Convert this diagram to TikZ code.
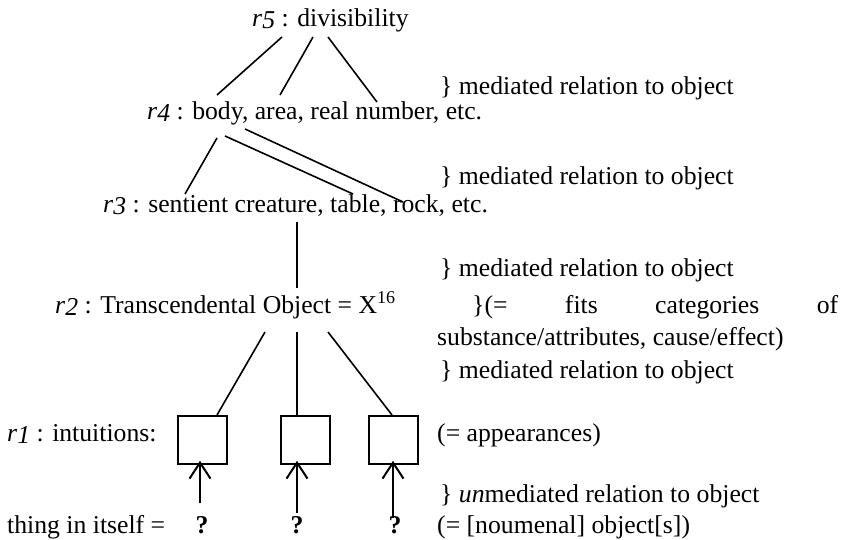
\documentclass[tikz,border=0pt]{standalone}
\usepackage{fontspec}
\setmainfont{Liberation Serif}
\usetikzlibrary{arrows.meta}
\newcommand{\rr}[1]{\textit{r}\raisebox{-2pt}{\textit{#1}}}
\begin{document}
\begin{tikzpicture}[x=1pt,y=-1pt,
  lbl/.style={anchor=base west,inner sep=0pt,font=\fontsize{25.7}{30}\selectfont},
  conn/.style={line width=1.6pt},
  ibox/.style={draw,line width=1.8pt,minimum width=49pt,minimum height=48pt,inner sep=0pt,anchor=north west},
  uparrow/.style={line width=2pt,-{Straight Barb[length=16pt,width=21pt,line width=2pt]}}]
\useasboundingbox (0,0) rectangle (844,540);
% texts
\node[lbl] (r5) at (252,27) {\rr{5} : divisibility};
\node[lbl] (m1) at (440,95) {\} mediated relation to object};
\node[lbl] (r4) at (147,120) {\rr{4} : body, area, real number, etc.};
\node[lbl] (m2) at (440,185) {\} mediated relation to object};
\node[lbl] (r3) at (103,213) {\rr{3} : sentient creature, table, rock, etc.};
\node[lbl] (m3) at (440,277) {\} mediated relation to object};
\node[lbl] (r2) at (55,313) {\rr{2} : Transcendental Object = X\textsuperscript{16}};
\node[lbl] (fits) at (472,313) {\makebox[366pt][s]{\}(=\hfill fits\hfill categories\hfill of}};
\node[lbl] (subst) at (437,345) {substance/attributes, cause/effect)};
\node[lbl] (m4) at (440,378) {\} mediated relation to object};
\node[lbl] (r1) at (7,441) {\rr{1} : intuitions:};
\node[lbl] (app) at (437,441) {(= appearances)};
\node[lbl] (m5) at (440,502) {\} \textit{un}mediated relation to object};
\node[lbl] (thing) at (7,533) {thing in itself =};
\node[lbl] (noum) at (437,533) {(= [noumenal] object[s])};
% boxes
\node[ibox] (b1) at (177,415) {};
\node[ibox] (b2) at (280,415) {};
\node[ibox] (b3) at (368,415) {};
% question marks
\node[lbl,anchor=base] (q1) at (202,533) {\textbf{?}};
\node[lbl,anchor=base] (q2) at (297,533) {\textbf{?}};
\node[lbl,anchor=base] (q3) at (395,533) {\textbf{?}};
% r5 -> r4
\coordinate (a1) at (282,37); \coordinate (a2) at (313,37); \coordinate (a3) at (328,37);
\coordinate (c1) at (217,95); \coordinate (c2) at (280,95); \coordinate (c3) at (377,102);
\draw[conn] (a1) -- (c1);
\draw[conn] (a2) -- (c2);
\draw[conn] (a3) -- (c3);
% r4 -> r3
\coordinate (d1) at (217,138); \coordinate (d2) at (225,136); \coordinate (d3) at (245,129);
\coordinate (e1) at (185,194); \coordinate (e2) at (353,194); \coordinate (e3) at (403,202);
\draw[conn] (d1) -- (e1);
\draw[conn] (d2) -- (e2);
\draw[conn] (d3) -- (e3);
% r3 -> r2
\coordinate (f1) at (297,222); \coordinate (f2) at (297,288);
\draw[conn] (f1) -- (f2);
% r2 -> boxes
\coordinate (g1) at (265,332); \coordinate (g2) at (297,332); \coordinate (g3) at (328,332);
\draw[conn] (g1) -- ([xshift=40pt]b1.north west);
\draw[conn] (g2) -- ([xshift=17pt]b2.north west);
\draw[conn] (g3) -- ([xshift=24pt]b3.north west);
% arrows
\coordinate (h1) at (200,503); \coordinate (h2) at (297,513); \coordinate (h3) at (393,518);
\draw[uparrow] (h1) -- ([yshift=4pt]h1 |- b1.south);
\draw[uparrow] (h2) -- ([yshift=4pt]h2 |- b2.south);
\draw[uparrow] (h3) -- ([yshift=4pt]h3 |- b3.south);
\end{tikzpicture}
\end{document}
